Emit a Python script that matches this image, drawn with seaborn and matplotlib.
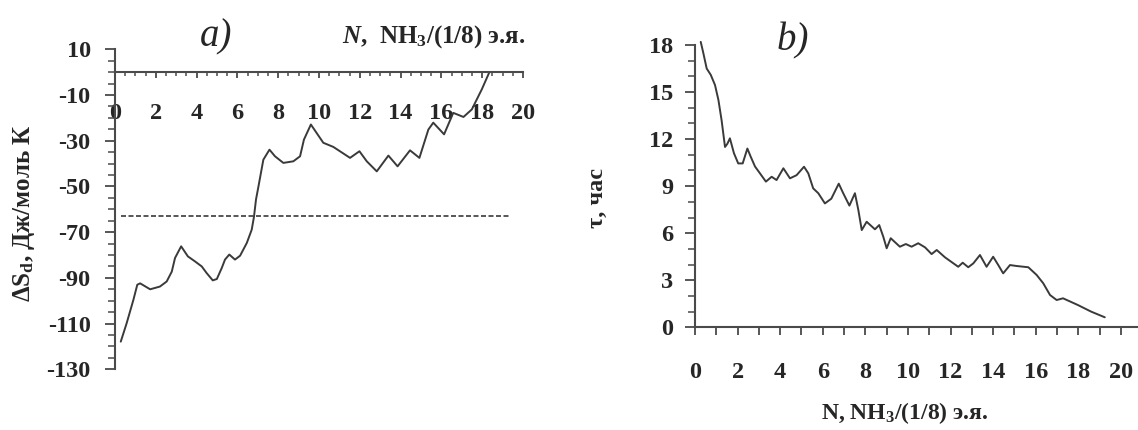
import numpy as np
import pandas as pd
import matplotlib
matplotlib.use("Agg")
import matplotlib.pyplot as plt
import seaborn as sns
from matplotlib.ticker import MultipleLocator

# panel a) : entropy vs N
n_a = [0.28, 0.57, 0.9, 1.09, 1.23, 1.72, 2.2, 2.53, 2.78, 2.94, 3.24, 3.57, 3.92, 4.25,
       4.49, 4.79, 4.99, 5.23, 5.39, 5.6, 5.88, 6.13, 6.46, 6.7, 6.81, 6.91, 7.03, 7.27,
       7.57, 7.84, 8.25, 8.74, 9.07, 9.26, 9.6, 9.95, 10.21, 10.7, 11.52, 11.98, 12.34,
       12.83, 13.4, 13.85, 14.46, 14.92, 15.36, 15.6, 16.13, 16.58, 17.08, 17.49, 17.98, 18.35]
ds_a = [-117.9, -109.8, -99.6, -93.0, -92.4, -95.0, -93.8, -91.6, -87.3, -81.3, -76.2, -80.6,
        -82.8, -85.0, -87.9, -91.1, -90.5, -85.7, -82.0, -79.8, -82.0, -80.3, -74.7, -68.9,
        -63.3, -55.7, -50.0, -38.3, -33.9, -36.8, -39.7, -39.0, -36.8, -29.5, -22.9, -27.5,
        -30.9, -32.7, -37.5, -34.6, -39.0, -43.4, -36.5, -41.2, -34.2, -37.5, -25.1, -22.1,
        -27.2, -17.8, -19.6, -16.3, -7.5, 0.0]
ref_level = -63.0
ref_span = [0.3, 19.3]

# panel b) : time vs N
n_b = [0.27, 0.39, 0.55, 0.74, 0.94, 1.1, 1.25, 1.41, 1.52, 1.64, 1.83, 2.03, 2.24, 2.46,
       2.61, 2.82, 3.05, 3.33, 3.6, 3.83, 4.15, 4.46, 4.77, 5.12, 5.32, 5.55, 5.79, 6.1,
       6.4, 6.75, 6.96, 7.25, 7.51, 7.67, 7.83, 8.06, 8.45, 8.65, 8.84, 9.0, 9.19, 9.62,
       9.9, 10.17, 10.48, 10.8, 11.11, 11.35, 11.74, 12.36, 12.57, 12.83, 13.07, 13.38,
       13.69, 14.0, 14.24, 14.47, 14.79, 15.1, 15.65, 16.04, 16.35, 16.67, 16.98, 17.28,
       17.98, 18.6, 19.24]
tau_b = [18.2, 17.5, 16.5, 16.1, 15.45, 14.5, 13.2, 11.5, 11.7, 12.05, 11.1, 10.45, 10.45,
         11.4, 10.9, 10.25, 9.82, 9.29, 9.6, 9.39, 10.14, 9.5, 9.7, 10.24, 9.82, 8.86, 8.55,
         7.9, 8.2, 9.16, 8.55, 7.76, 8.55, 7.48, 6.2, 6.73, 6.25, 6.52, 5.78, 5.04, 5.68,
         5.14, 5.31, 5.14, 5.36, 5.1, 4.67, 4.93, 4.46, 3.86, 4.12, 3.83, 4.08, 4.61, 3.86,
         4.5, 3.97, 3.44, 3.97, 3.91, 3.83, 3.34, 2.81, 2.06, 1.74, 1.85, 1.42, 1.0, 0.64]

sns.set_theme(style="ticks")
plt.rcParams["font.family"] = ["Liberation Serif", "DejaVu Serif"]
plt.rcParams["font.weight"] = "bold"
plt.rcParams["axes.unicode_minus"] = False
plt.rcParams["mathtext.fontset"] = "custom"
plt.rcParams["mathtext.rm"] = "Liberation Serif:bold"
plt.rcParams["mathtext.bf"] = "Liberation Serif:bold"
plt.rcParams["mathtext.it"] = "Liberation Serif:bold:italic"

line_c = "#3a3a3a"
spine_c = "#4a4a4a"
tick_fs = 17.5

fig = plt.figure(figsize=(11.38, 4.30), dpi=100)
ax1 = fig.add_axes([0.1011, 0.1412, 0.3585, 0.7441])
ax2 = fig.add_axes([0.6107, 0.2388, 0.3893, 0.6565])

# ---- panel a
df_a = pd.DataFrame({"N": n_a, "dS": ds_a})
sns.lineplot(data=df_a, x="N", y="dS", ax=ax1, color=line_c, linewidth=1.4, sort=False)
ax1.plot(ref_span, [ref_level, ref_level], color=line_c, linewidth=1.2, linestyle=(0, (3, 1.5)))
ax1.set_xlim(0, 20)
ax1.set_ylim(-130, 10)
ax1.spines["right"].set_visible(False)
ax1.spines["top"].set_visible(False)
ax1.spines["bottom"].set_position(("data", 0))
for s in ["left", "bottom"]:
    ax1.spines[s].set_color(spine_c)
    ax1.spines[s].set_linewidth(1.5)
ax1.xaxis.set_major_locator(MultipleLocator(2))
ax1.xaxis.set_minor_locator(MultipleLocator(0.5))
ax1.set_yticks(np.arange(10, -131, -20))
ax1.yaxis.set_minor_locator(MultipleLocator(5))
ax1.tick_params(axis="x", which="major", direction="out", length=4.3, width=1.3,
                color=spine_c, pad=18, labelsize=tick_fs)
ax1.tick_params(axis="x", which="minor", direction="out", length=3, width=1.1, color=spine_c)
ax1.tick_params(axis="y", which="major", direction="out", length=7, width=1.3,
                color=spine_c, pad=10.5, labelsize=tick_fs)
ax1.tick_params(axis="y", which="minor", direction="out", length=5, width=1.1, color=spine_c)
ax1.set_xlabel("")
ax1.set_ylabel("")
for lab in ax1.get_xticklabels() + ax1.get_yticklabels():
    lab.set_fontweight("bold")

# ---- panel b
df_b = pd.DataFrame({"N": n_b, "tau": tau_b})
sns.lineplot(data=df_b, x="N", y="tau", ax=ax2, color=line_c, linewidth=1.4, sort=False)
for ln in ax2.get_lines():
    ln.set_clip_on(False)
ax2.set_xlim(0, 20.8)
ax2.set_ylim(0, 18)
ax2.spines["right"].set_visible(False)
ax2.spines["top"].set_visible(False)
for s in ["left", "bottom"]:
    ax2.spines[s].set_color(spine_c)
    ax2.spines[s].set_linewidth(1.5)
ax2.set_xticks(np.arange(0, 21, 2))
ax2.xaxis.set_minor_locator(MultipleLocator(1))
ax2.set_yticks(np.arange(0, 19, 3))
ax2.yaxis.set_minor_locator(MultipleLocator(1))
ax2.tick_params(axis="x", which="major", direction="out", length=5.5, width=1.3,
                color=spine_c, pad=19.5, labelsize=tick_fs)
ax2.tick_params(axis="x", which="minor", direction="out", length=5.5, width=1.3, color=spine_c)
ax2.tick_params(axis="y", which="major", direction="out", length=7, width=1.3,
                color=spine_c, pad=8.4, labelsize=tick_fs)
ax2.tick_params(axis="y", which="minor", direction="out", length=5, width=1.1, color=spine_c)
ax2.set_xlabel("")
ax2.set_ylabel("")
for lab in ax2.get_xticklabels() + ax2.get_yticklabels():
    lab.set_fontweight("bold")

# ---- labels
fig.text(0.0211, 0.5047, r"ΔS$_{\mathbf{d}}$, Дж/моль К", rotation=90, ha="center", va="center",
         fontsize=18, fontweight="bold")
fig.text(0.462, 0.916, r"$\mathit{N}$,  NH$_{\mathbf{3}}$/(1/8) э.я.", ha="right", va="center",
         fontsize=18, fontweight="bold")
fig.text(0.525, 0.54, "τ, час", rotation=90, ha="center", va="center",
         fontsize=17.5, fontweight="bold")
fig.text(0.795, 0.04, r"N, NH$_{\mathbf{3}}$/(1/8) э.я.", ha="center", va="center",
         fontsize=17, fontweight="bold")
fig.text(0.19, 0.914, "a)", ha="center", va="center", fontsize=28, style="italic",
         fontweight="normal")
fig.text(0.697, 0.905, "b)", ha="center", va="center", fontsize=28, style="italic",
         fontweight="normal")

fig.savefig("out.png", dpi=100)
